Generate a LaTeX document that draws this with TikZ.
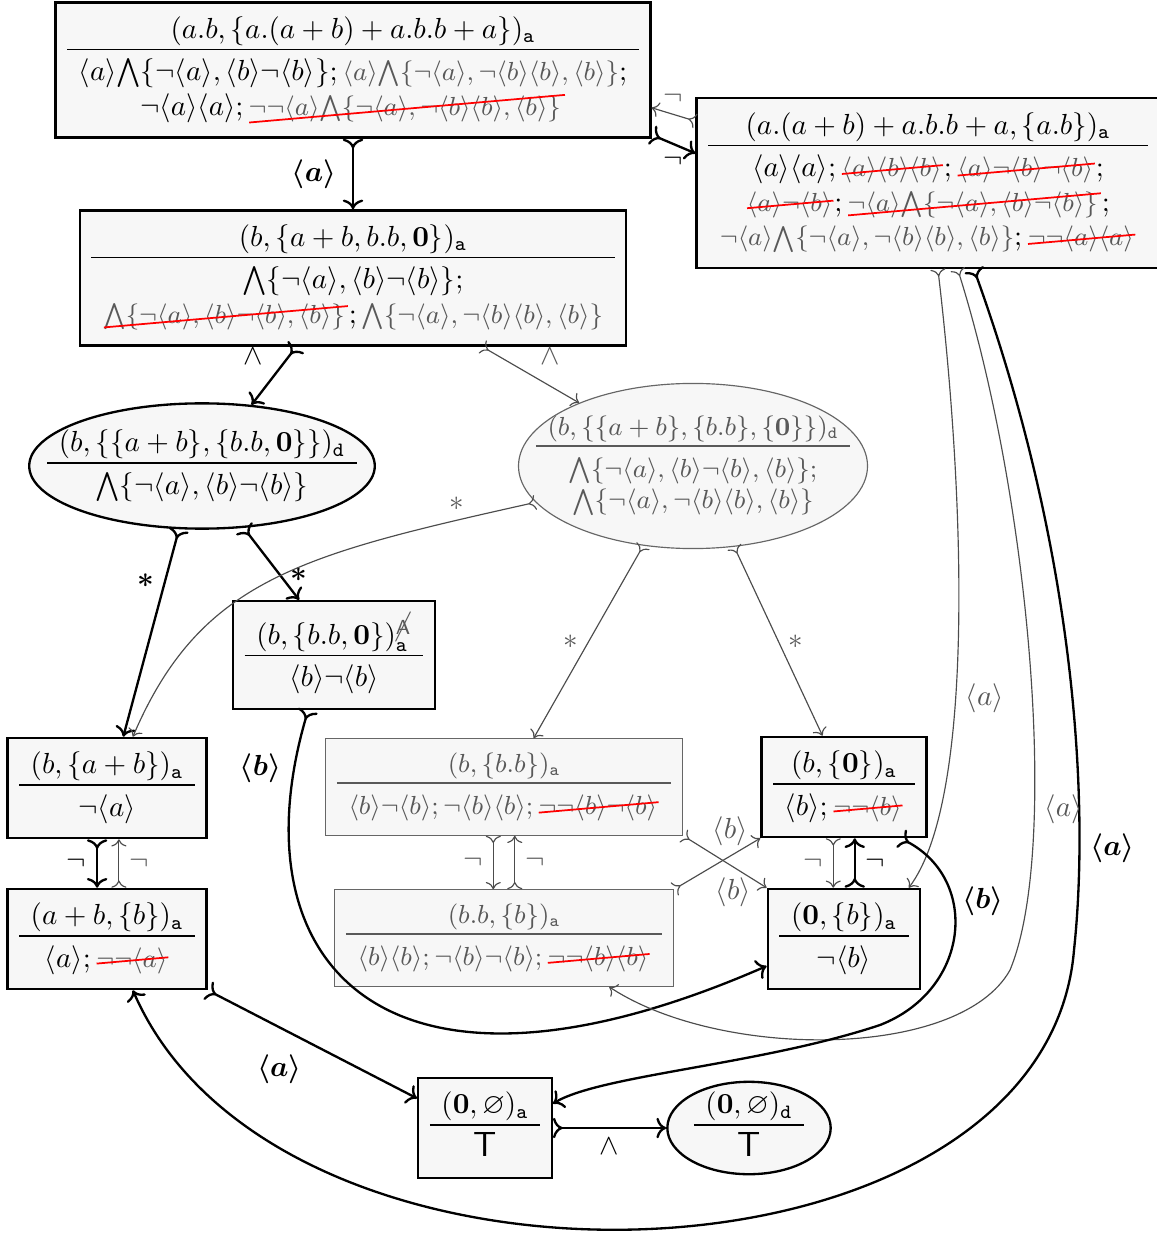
\documentclass[tikz,border=0pt]{standalone}
\usepackage{amsmath,amssymb}
\usepackage{cancel}
\usetikzlibrary{arrows.meta,shapes.geometric,calc}
\newcommand{\dm}[1]{\langle #1\rangle}
\newcommand{\bw}{\mathord{\bigwedge}}
\newcommand{\lba}{\boldsymbol{\langle a\rangle}}
\newcommand{\lbb}{\boldsymbol{\langle b\rangle}}
\newcommand{\gx}[1]{\text{\small\color{black!65}$#1$}}
% struck-out (gray, red slanted line)
\newcommand{\sx}[1]{\tikz[baseline=(sxt.base),x=1cm,y=1cm]{%
    \node[rectangle,draw=none,fill=none,inner sep=0pt,outer sep=0pt,anchor=center,text=black!65,font=\small] (sxt) {$#1$};
    \draw[red,line width=0.6pt] ($(sxt.center)!1!5:(sxt.west)$) -- ($(sxt.center)!1.03!5:(sxt.east)$);}}
\newcommand{\nA}{\cancel{\mathsf{A}}}
\newcommand{\stt}[2]{$\begin{array}{c}#1\\\hline\rule{0pt}{10.5pt}#2\end{array}$}
\setlength{\arraycolsep}{4pt}

\begin{document}
\begin{tikzpicture}[x=0.0121cm,y=-0.0121cm,
            abox/.style={rectangle,draw,thick,fill=black!3,inner sep=4pt},
            gbox/.style={rectangle,draw=black!60,fill=black!3,text=black!65,font=\small,inner sep=4pt},
            dell/.style={ellipse,draw,thick,fill=black!3},
            gell/.style={ellipse,draw=black!60,fill=black!3,text=black!65,font=\small},
            arr/.style={draw,thick,>->},
            garr/.style={draw,black!70,>->},
            glbl/.style={text=black!65}
            ]
            \useasboundingbox (0,0) rectangle (1156,1239);
            % states
            \node[abox] (top) at (353,70) {\stt{(a.b,\{a.(a+b)+a.b.b+a\})_{\mathtt{a}}}{\dm a\bw\{\neg\dm a,\dm b\neg\dm b\};\gx{\dm a\bw\{\neg\dm a,\neg\dm b\dm b,\dm b\}};\\ \neg\dm a\dm a;\sx{\neg\neg\dm a\bw\{\neg\dm a,\neg\dm b\dm b,\dm b\}}}};
            \node[abox] (rt) at (928,183) {\stt{(a.(a+b)+a.b.b+a,\{a.b\})_{\mathtt{a}}}{\dm a\dm a;\sx{\dm a\dm b\dm b};\sx{\dm a\neg\dm b\neg\dm b};\\ \sx{\dm a\neg\dm b};\sx{\neg\dm a\bw\{\neg\dm a,\dm b\neg\dm b\}};\\ \gx{\neg\dm a\bw\{\neg\dm a,\neg\dm b\dm b,\dm b\}};\sx{\neg\neg\dm a\dm a}}};
            \node[abox] (bb) at (353,278) {\stt{(b,\{a+b,b.b,\mathbf{0}\})_{\mathtt{a}}}{\bw\{\neg\dm a,\dm b\neg\dm b\};\\ \sx{\bw\{\neg\dm a,\dm b\neg\dm b,\dm b\}};\gx{\bw\{\neg\dm a,\neg\dm b\dm b,\dm b\}}}};
            \node[dell,inner xsep=-11.2pt,inner ysep=2pt] (el) at (202,466) {\stt{(b,\{\{a+b\},\{b.b,\mathbf{0}\}\})_{\mathtt{d}}}{\bw\{\neg\dm a,\dm b\neg\dm b\}}};
            \node[gell,inner xsep=-11.6pt,inner ysep=2pt] (er) at (693,466) {\stt{(b,\{\{a+b\},\{b.b\},\{\mathbf{0}\}\})_{\mathtt{d}}}{\bw\{\neg\dm a,\dm b\neg\dm b,\dm b\};\\ \bw\{\neg\dm a,\neg\dm b\dm b,\dm b\}}};
            \node[abox] (bbz) at (334,655) {\stt{(b,\{b.b,\mathbf{0}\})_{\mathtt{a}}^{\textcolor{black!65}{\nA}}}{\dm b\neg\dm b}};
            \node[abox] (ba) at (107,788) {\stt{(b,\{a+b\})_{\mathtt{a}}}{\neg\dm a}};
            \node[abox] (ab) at (107,939) {\stt{(a+b,\{b\})_{\mathtt{a}}}{\dm a;\sx{\neg\neg\dm a}}};
            \node[gbox] (ga) at (504,787) {\stt{(b,\{b.b\})_{\mathtt{a}}}{\dm b\neg\dm b;\neg\dm b\dm b;\sx{\neg\neg\dm b\neg\dm b}}};
            \node[gbox] (gb) at (504,938) {\stt{(b.b,\{b\})_{\mathtt{a}}}{\dm b\dm b;\neg\dm b\neg\dm b;\sx{\neg\neg\dm b\dm b}}};
            \node[abox] (bz) at (844,787) {\stt{(b,\{\mathbf{0}\})_{\mathtt{a}}}{\dm b;\sx{\neg\neg\dm b}}};
            \node[abox] (zb) at (844,939) {\stt{(\mathbf{0},\{b\})_{\mathtt{a}}}{\neg\dm b}};
            \node[abox] (z) at (485,1128) {\stt{(\mathbf{0},\varnothing)_{\mathtt{a}}}{\text{\large\textsf{T}}}};
            \node[dell,inner xsep=0.9pt,inner ysep=-2pt] (zd) at (749,1128) {\stt{(\mathbf{0},\varnothing)_{\mathtt{d}}}{\text{\large\textsf{T}}}};
            % transitions
            \draw[arr] (top) -- node[left=2pt]{$\lba$} (bb);
            \draw[arr] ([yshift=-22.3pt]top.east) -- node[below]{$\neg$} ([yshift=10.2pt]rt.west);
            \draw[garr] ([yshift=21.3pt]rt.west) -- node[above,glbl]{$\neg$} ([yshift=-13pt]top.east);
            \draw[arr] ([xshift=-19.5pt]bb.south) -- node[above left]{$\wedge$} (el.51);
            \draw[garr] ([xshift=44.5pt]bb.south) -- node[above right,glbl]{$\wedge$} (er.151);
            \draw[arr] (el.250) -- node[pos=0.25,left]{$\boldsymbol{*}$} ([xshift=5.6pt]ba.north);
            \draw[arr] (el.304) -- node[pos=0.65,right]{$\boldsymbol{*}$} ([xshift=-12pt]bbz.north);
            \draw[garr] (er.193) .. controls (300,555) and (200,580) .. ([xshift=8.9pt]ba.north) node[pos=0.12,above,glbl]{$*$};
            \draw[garr] (er.238) -- node[left,glbl]{$*$} ([xshift=10.2pt]ga.north);
            \draw[garr] (er.297) -- node[right,glbl]{$*$} ([xshift=-7.4pt]bz.north);
            \draw[arr] ([xshift=-8.9pt]bbz.south) .. controls (235,960) and (380,1135) .. ([yshift=-9.3pt]zb.west) node[pos=0.08,left=1pt]{$\lbb$};
            \draw[arr] ([xshift=-3.4pt]ba.south) -- node[left]{$\neg$} ([xshift=-3.4pt]ab.north);
            \draw[garr] ([xshift=4.1pt]ab.north) -- node[right,glbl]{$\neg$} ([xshift=4.1pt]ba.south);
            \draw[arr] (ab.south east) -- node[below left]{$\lba$} ([yshift=10.2pt]z.west);
            \draw[arr] ([xshift=15.8pt]rt.south) .. controls (1075,550) and (1090,800) .. (1074,950) node[pos=0.8,right]{$\lba$}
                .. controls (1045,1300) and (280,1330) .. ([xshift=8.9pt]ab.south);
            \draw[garr] ([xshift=3.4pt]rt.south) .. controls (965,500) and (975,800) .. ([xshift=22.3pt]zb.north) node[pos=0.6,right,glbl]{$\dm a$};
            \draw[garr] ([xshift=10.2pt]rt.south) .. controls (1030,500) and (1060,850) .. (1010,970) node[pos=0.7,right,glbl]{$\dm a$}
                .. controls (960,1060) and (720,1060) .. ([xshift=36.2pt]gb.south);
            \draw[arr] ([xshift=19.5pt]bz.south) .. controls (980,880) and (970,990) .. (880,1025) node[pos=0.35,right]{$\lbb$}
                .. controls (760,1065) and (600,1075) .. ([yshift=8.4pt]z.east);
            \draw[arr] (z) -- node[below]{$\wedge$} (zd);
            \draw[garr] ([xshift=-3.7pt]bz.south) -- node[left,glbl]{$\neg$} ([xshift=-3.7pt]zb.north);
            \draw[arr] ([xshift=3.7pt]zb.north) -- node[right]{$\neg$} ([xshift=3.7pt]bz.south);
            \draw[garr] ([xshift=-3.7pt]ga.south) -- node[left,glbl]{$\neg$} ([xshift=-3.7pt]gb.north);
            \draw[garr] ([xshift=3.7pt]gb.north) -- node[right,glbl]{$\neg$} ([xshift=3.7pt]ga.south);
            \draw[garr] (ga.south east) -- node[pos=0.6,below,glbl]{$\dm b$} (zb.north west);
            \draw[garr] (gb.north east) -- node[pos=0.65,above,glbl]{$\dm b$} (bz.south west);
        \end{tikzpicture}
\end{document}
